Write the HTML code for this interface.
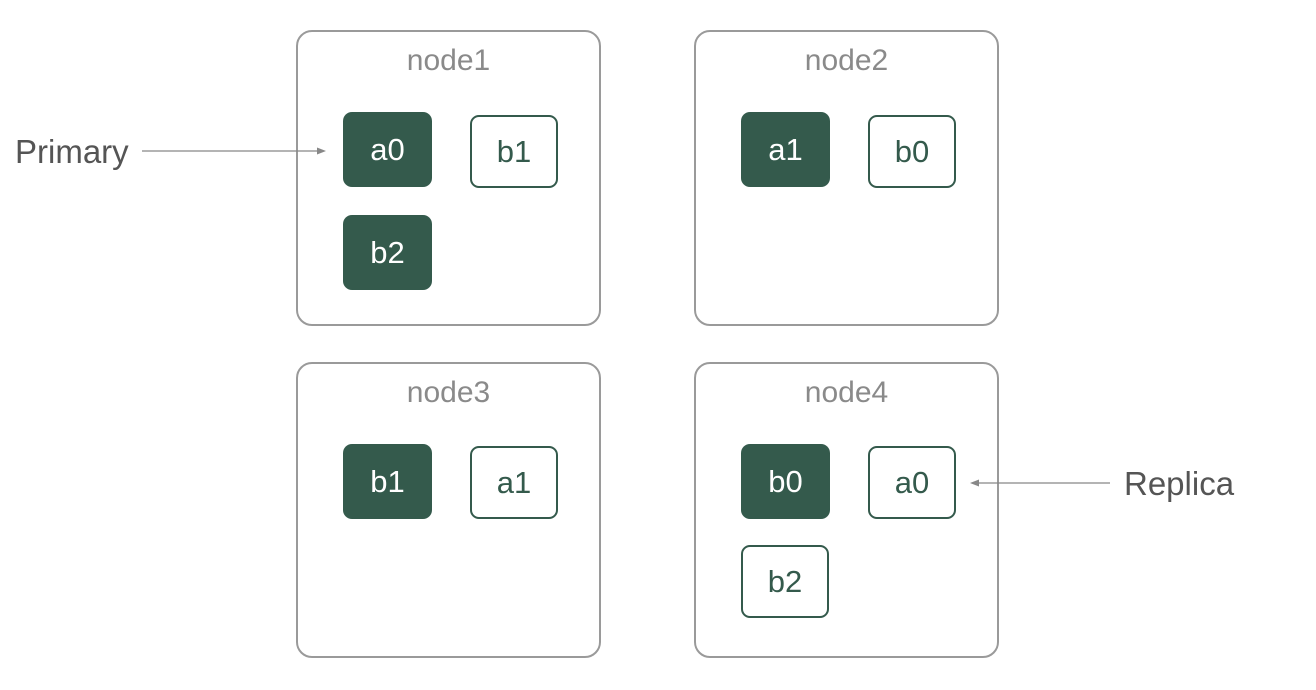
<!DOCTYPE html>
<html><head><style>
body{margin:0;width:1316px;height:690px;background:#fff;position:relative;overflow:hidden;font-family:"Liberation Sans",sans-serif}
.n{position:absolute;width:301px;height:292px;border:2px solid #9a9a9a;border-radius:16px;box-sizing:content-box}
.n .t{position:absolute;left:0;right:0;top:12px;text-align:center;font-size:30px;color:#8a8a8a}
.s{position:absolute;width:89px;height:75px;border-radius:9px;box-sizing:border-box;display:flex;align-items:center;justify-content:center;font-size:31px}
.f{background:#345a4c;color:#fff}
.o{border:2px solid #345a4c;color:#345a4c;background:#fff;width:88px;height:73px}
.l{position:absolute;font-size:33px;color:#555}
</style></head><body>
<div class="n" style="left:296px;top:30px"><div class="t">node1</div></div>
<div class="n" style="left:694px;top:30px"><div class="t">node2</div></div>
<div class="n" style="left:296px;top:362px"><div class="t">node3</div></div>
<div class="n" style="left:694px;top:362px"><div class="t">node4</div></div>

<div class="s f" style="left:343px;top:112px">a0</div>
<div class="s o" style="left:470px;top:115px">b1</div>
<div class="s f" style="left:343px;top:215px">b2</div>

<div class="s f" style="left:741px;top:112px">a1</div>
<div class="s o" style="left:868px;top:115px">b0</div>

<div class="s f" style="left:343px;top:444px">b1</div>
<div class="s o" style="left:470px;top:446px">a1</div>

<div class="s f" style="left:741px;top:444px">b0</div>
<div class="s o" style="left:868px;top:446px">a0</div>
<div class="s o" style="left:741px;top:545px">b2</div>

<div class="l" style="left:15px;top:133px">Primary</div>
<div class="l" style="left:1124px;top:465px">Replica</div>
<svg width="1316" height="690" style="position:absolute;left:0;top:0">
<line x1="142" y1="151" x2="320" y2="151" stroke="#888" stroke-width="1.3"/>
<polygon points="326,151 317,147.5 317,154.5" fill="#888"/>
<line x1="1110" y1="483" x2="976" y2="483" stroke="#888" stroke-width="1.3"/>
<polygon points="970,483 979,479.5 979,486.5" fill="#888"/>
</svg>
</body></html>
